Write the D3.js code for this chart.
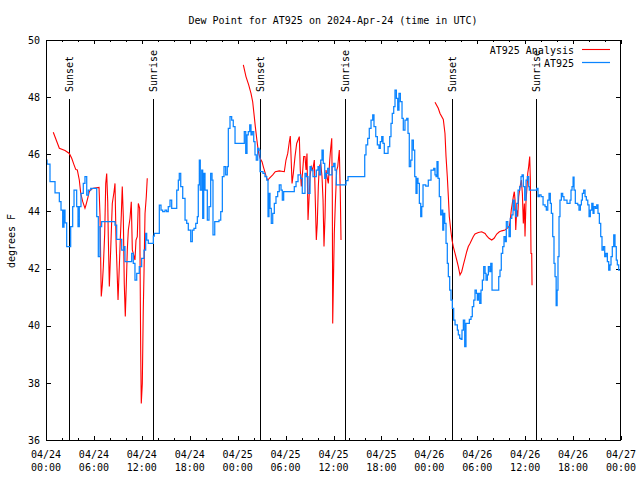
<!DOCTYPE html>
<html><head><meta charset="utf-8">
<script src="https://cdn.jsdelivr.net/npm/d3@7"></script>
<style>
body{margin:0;background:#fff}
svg{display:block}
text{font-family:"DejaVu Sans Mono",monospace;font-size:10px;fill:#000}
</style>
</head><body>
<svg id="c" width="640" height="480"></svg>
<script>
// ---- data (hours since 2024-04-24 00:00 UTC, dew point in °F) ----
const titleText = "Dew Point for AT925 on 2024-Apr-24 (time in UTC)";
const yLabel = "degrees F";
const yTicks = [36, 38, 40, 42, 44, 46, 48, 50];
const xMajorHours = [0, 6, 12, 18, 24, 30, 36, 42, 48, 54, 60, 66, 72];
const xMinorHours = d3.range(0, 73, 2);
const sunsetHours = [2.92, 26.83, 50.88];
const sunriseHours = [13.44, 37.48, 61.40];
const seriesNames = ["AT925 Analysis", "AT925"];

const at925 = [[0,45.8],[0.13,45.66],[0.5,45.04],[1.13,44.65],[1.67,44.34],[1.88,44.05],[2.09,43.45],[2.25,44.05],[2.38,43.6],[2.59,42.77],
[2.92,42.77],[3.09,43.47],[3.34,44.17],[3.51,44.75],[3.67,44.75],[3.84,44.17],[4.01,43.47],[4.17,44.17],[4.38,44.63],[4.67,44.98],
[4.88,45.22],[5.1,44.57],[5.3,44.75],[5.6,44.81],[5.92,44.81],[6.35,43.82],[6.55,42.42],[6.76,43.47],[6.97,43.64],[8.43,43.64],
[8.64,43.52],[8.85,43.02],[9.39,43.02],[9.48,42.65],[9.77,42.77],[9.89,42.24],[10.52,42.24],[10.73,42.53],[10.93,42.18],[11.14,41.6],
[11.36,41.83],[11.68,42.07],[11.98,42.36],[12.27,42.65],[12.48,43.23],[12.61,43.0],[12.81,42.88],[13.24,42.88],[13.44,43.14],[13.56,43.23],
[14.06,43.23],[14.19,44.22],[14.4,44.05],[14.61,43.99],[14.9,44.05],[15.11,43.99],[15.31,44.17],[15.53,44.4],[15.74,44.11],[16.15,44.11],
[16.37,44.75],[16.57,45.1],[16.69,45.33],[16.87,44.87],[17.12,44.46],[17.41,43.7],[17.62,43.58],[17.82,43.35],[18.12,42.94],[18.32,43.35],
[18.53,43.41],[18.75,43.58],[18.95,43.82],[19.07,44.93],[19.2,45.8],[19.32,44.75],[19.5,45.45],[19.62,43.76],[19.75,45.33],[19.91,44.75],
[20.2,43.7],[20.41,44.17],[20.62,45.33],[20.79,45.1],[20.91,43.18],[21.13,43.64],[21.66,43.7],[21.88,43.99],[22.08,45.22],[22.29,45.57],
[22.5,45.28],[22.7,45.57],[22.83,46.91],[23.04,47.32],[23.25,47.2],[23.45,46.97],[23.67,46.38],[24.71,46.38],[24.83,46.79],[25.01,46.03],
[25.17,46.68],[25.33,46.79],[25.51,47.03],[25.67,46.68],[25.83,46.79],[26.01,46.44],[26.17,45.98],[26.33,45.8],[26.51,46.21],[26.67,46.15],
[26.8,45.39],[27.17,45.33],[27.42,45.22],[27.64,45.1],[27.8,43.82],[27.92,44.63],[28.05,44.11],[28.21,43.58],[28.39,43.93],[28.59,44.28],
[28.8,44.52],[29.01,44.69],[29.21,44.93],[29.43,44.75],[29.59,44.4],[29.76,44.69],[30.89,44.69],[31.09,44.87],[31.31,45.04],[31.56,45.28],
[31.89,45.16],[32.09,44.63],[32.27,44.63],[32.43,45.33],[32.6,45.22],[32.81,44.63],[33.06,45.57],[33.22,45.45],[33.43,45.22],[33.85,45.45],
[34.06,45.57],[34.22,45.28],[34.4,45.8],[34.56,46.15],[34.72,45.68],[34.9,45.16],[35.06,45.33],[35.27,45.51],[35.44,45.28],[35.81,45.57],
[36.03,45.68],[36.19,45.45],[36.35,44.93],[37.35,44.93],[37.57,45.08],[37.82,45.22],[39.78,45.22],[39.91,45.98],[40.07,46.33],[40.28,46.56],
[40.48,46.91],[40.7,47.2],[40.91,47.38],[41.07,46.97],[41.29,46.62],[41.49,46.33],[41.7,46.21],[41.86,46.44],[42.04,46.62],[42.2,46.38],
[42.36,46.03],[42.83,46.27],[43.04,46.62],[43.2,47.08],[43.36,47.43],[43.54,47.67],[43.7,48.25],[43.87,47.96],[44.04,47.55],[44.2,48.13],
[44.37,47.84],[44.58,47.26],[44.74,46.85],[44.95,47.2],[45.17,47.26],[45.33,46.73],[45.49,45.57],[45.67,45.8],[45.83,46.5],[46.0,46.15],
[46.17,45.22],[46.33,44.63],[46.46,45.16],[46.58,44.98],[46.75,44.28],[46.92,43.82],[47.05,44.17],[47.21,44.93],[47.55,44.89],[47.87,45.1],
[48.21,45.45],[48.55,45.51],[48.71,45.28],[48.84,45.22],[48.96,45.74],[49.09,45.16],[49.25,44.52],[49.42,43.88],[49.59,44.05],[49.68,43.35],
[49.8,43.93],[49.93,43.58],[50.09,42.88],[50.25,42.18],[50.38,41.72],[50.55,41.25],[50.71,40.9],[50.88,40.61],[51.05,40.2],[51.22,40.03],
[51.51,39.85],[51.63,39.68],[51.8,39.56],[51.97,39.52],[52.09,39.85],[52.26,40.2],[52.43,39.27],[52.59,40.08],[53.01,40.22],[53.22,40.32],
[53.38,40.67],[53.56,40.9],[53.72,41.25],[53.89,41.13],[54.01,40.9],[54.14,41.13],[54.31,40.78],[54.47,41.25],[54.64,41.6],[54.81,42.07],
[54.98,41.83],[55.1,41.6],[55.27,41.78],[55.39,42.07],[55.57,41.89],[55.69,42.18],[55.85,41.25],[56.57,41.25],[56.69,41.72],[56.85,41.95],
[57.01,42.53],[57.19,42.77],[57.35,43.12],[57.52,42.94],[57.64,43.64],[57.82,43.47],[57.98,43.12],[58.14,43.76],[58.32,43.88],[58.48,44.4],
[58.64,44.05],[58.82,43.82],[58.94,44.28],[59.11,44.75],[59.32,44.87],[59.48,45.22],[59.61,45.28],[59.77,44.87],[59.94,44.4],[60.11,45.1],
[60.27,45.22],[60.44,44.87],[60.52,44.75],[61.45,44.81],[61.61,44.52],[61.77,44.58],[61.99,44.52],[62.24,44.23],[62.49,44.17],[62.65,44.05],
[62.83,44.4],[62.99,44.63],[63.15,44.28],[63.28,43.93],[63.45,43.12],[63.61,42.18],[63.74,41.72],[63.88,40.7],[64.0,41.25],[64.11,42.42],
[64.24,43.82],[64.36,44.4],[64.53,44.63],[64.7,44.52],[64.86,44.4],[65.24,44.28],[65.62,44.4],[65.74,44.75],[65.87,44.87],[66.0,45.2],
[66.12,44.75],[66.28,44.28],[66.58,44.23],[66.74,44.05],[66.91,44.23],[67.04,44.4],[67.16,44.63],[67.33,44.75],[67.5,44.52],[67.66,44.4],
[67.84,44.23],[68.0,43.82],[68.16,44.05],[68.34,44.28],[68.5,43.93],[68.62,44.17],[68.79,44.11],[68.96,44.23],[69.12,43.93],[69.29,43.58],
[69.46,43.12],[69.62,42.65],[69.79,42.77],[69.96,42.42],[70.12,42.53],[70.29,42.24],[70.46,41.95],[70.62,42.13],[70.75,42.42],[70.91,42.77],
[71.09,43.18],[71.25,42.77],[71.41,42.3],[71.54,42.13],[71.71,41.95],[71.87,41.95]];

const analysisNight1 = [[0.91,46.77],[1.67,46.21],[2.38,46.13],[2.92,46.03],[3.22,45.86],[3.51,45.63],[3.72,45.47],[3.92,45.45],[4.17,45.1],[4.35,44.63],
[4.6,44.34],[4.88,44.11],[5.01,44.23],[5.22,44.46],[5.42,44.69],[5.63,44.77],[5.92,44.81],[6.64,44.84],[6.76,43.88],[6.92,41.02],
[7.05,41.43],[7.18,42.07],[7.35,43.23],[7.48,44.98],[7.6,45.33],[7.73,44.34],[7.8,43.12],[7.93,41.37],[8.1,42.65],[8.3,44.28],
[8.52,44.69],[8.64,44.98],[8.77,43.0],[8.89,42.01],[9.02,40.9],[9.18,42.07],[9.3,43.0],[9.43,43.88],[9.55,44.87],[9.68,43.82],
[9.8,41.48],[9.93,40.32],[10.06,41.48],[10.18,42.65],[10.31,43.35],[10.52,43.76],[10.68,44.34],[10.81,42.65],[10.93,42.53],[11.14,42.3],
[11.27,43.0],[11.43,43.12],[11.56,44.28],[11.73,44.11],[11.86,39.03],[11.93,37.28],[12.06,37.98],[12.18,40.55],[12.27,41.83],[12.4,43.93],
[12.56,44.52],[12.68,45.16]];

const analysisNight2 = [[24.71,49.13],[25.04,48.72],[25.38,48.43],[25.67,48.13],[25.88,47.84],[26.08,47.32],[26.21,46.97],[26.38,46.56],[26.51,46.27],[26.64,46.03],
[26.8,45.86],[27.05,45.74],[27.21,45.57],[27.46,45.33],[27.64,45.16],[27.8,45.1],[27.96,45.16],[28.39,45.28],[28.71,45.39],[29.21,45.42],
[29.84,45.39],[30.05,45.8],[30.27,46.03],[30.47,46.44],[30.59,46.64],[30.81,44.98],[30.97,45.33],[31.18,45.92],[31.39,46.38],[31.56,46.5],
[31.72,46.62],[31.84,45.45],[31.97,44.87],[32.15,45.45],[32.27,45.92],[32.43,45.92],[32.56,45.45],[32.68,46.03],[32.81,43.7],[32.93,44.4],
[33.06,45.22],[33.22,45.57],[33.4,45.45],[33.6,45.8],[33.72,44.4],[33.85,43.0],[33.97,43.58],[34.1,44.87],[34.22,45.57],[34.4,45.68],
[34.56,45.22],[34.69,44.4],[34.81,42.77],[34.94,43.82],[35.06,45.45],[35.19,45.22],[35.35,44.98],[35.53,45.8],[35.65,46.21],[35.78,46.56],
[35.85,44.63],[35.9,40.08],[35.98,41.37],[36.1,43.23],[36.23,44.28],[36.4,45.45],[36.53,45.57],[36.65,45.92],[36.73,46.15],[36.85,44.63],
[36.94,43.0]];

const analysisNight3 = [[48.71,47.82],[49.12,47.61],[49.34,47.43],[49.75,47.22],[49.96,46.73],[50.09,45.92],[50.25,45.22],[50.38,44.52],[50.5,43.82],[50.68,43.35],
[50.84,43.0],[51.0,42.77],[51.22,42.53],[51.43,42.3],[51.63,42.07],[51.84,41.78],[52.05,41.89],[52.26,42.13],[52.47,42.36],[52.68,42.59],
[52.88,42.77],[53.09,42.88],[53.3,43.0],[53.51,43.12],[53.72,43.21],[54.14,43.26],[54.56,43.29],[54.98,43.23],[55.19,43.14],[55.47,43.06],
[55.81,43.0],[56.11,43.06],[56.44,43.21],[56.77,43.29],[57.07,43.32],[57.48,43.35],[58.01,43.47],[58.14,43.7],[58.26,44.05],[58.39,44.28],
[58.52,44.52],[58.64,44.69],[58.73,44.4],[58.82,43.35],[58.94,44.05],[59.07,43.82],[59.19,44.52],[59.36,44.87],[59.52,45.1],[59.65,44.63],
[59.77,43.58],[59.9,44.28],[59.98,43.12],[60.11,44.4],[60.24,44.87],[60.32,45.33],[60.44,45.57],[60.57,45.92],[60.65,45.1],[60.73,42.53],
[60.82,42.53],[60.86,41.42]];

// ---- drawing ----
const t0 = Date.UTC(2024, 3, 24);
const toDate = h => new Date(t0 + h * 3600e3);
const L = 46, R = 621, T = 40, B = 440;
const svg = d3.select("#c");
const x = d3.scaleUtc().domain([toDate(0), toDate(72)]).range([L, R]);
const y = d3.scaleLinear().domain([36, 50]).range([B, T]);

// title
svg.append("text").attr("x", 333).attr("y", 24).attr("text-anchor", "middle").text(titleText);

// axes ticks (inward, mirrored)
function styleAxis(g){ g.select(".domain").remove(); g.selectAll("line").attr("stroke","#000").attr("shape-rendering","crispEdges"); }
svg.append("g").attr("transform",`translate(0,${B})`)
  .call(d3.axisBottom(x).tickValues(xMinorHours.map(toDate)).tickSize(-2).tickFormat(""))
  .call(styleAxis);
svg.append("g").attr("transform",`translate(0,${T})`)
  .call(d3.axisTop(x).tickValues(xMinorHours.map(toDate)).tickSize(-2).tickFormat(""))
  .call(styleAxis);
svg.append("g").attr("transform",`translate(0,${B})`)
  .call(d3.axisBottom(x).tickValues(xMajorHours.map(toDate)).tickSize(-4).tickFormat(""))
  .call(styleAxis);
svg.append("g").attr("transform",`translate(0,${T})`)
  .call(d3.axisTop(x).tickValues(xMajorHours.map(toDate)).tickSize(-4).tickFormat(""))
  .call(styleAxis);
const gy = svg.append("g").attr("transform",`translate(${L},0)`)
  .call(d3.axisLeft(y).tickValues(yTicks).tickSize(-5).tickPadding(6).tickFormat(d3.format("d")))
  .call(styleAxis);
gy.selectAll("text").attr("font-family",null).attr("font-size",null).attr("fill","#000");
svg.append("g").attr("transform",`translate(${R},0)`)
  .call(d3.axisRight(y).tickValues(yTicks).tickSize(-5).tickFormat(""))
  .call(styleAxis);

// x tick labels (two lines)
const fD = d3.utcFormat("%m/%d"), fT = d3.utcFormat("%H:%M");
const xl = svg.append("g");
xMajorHours.forEach(h => {
  const d = toDate(h);
  xl.append("text").attr("x", x(d)).attr("y", 458.3).attr("text-anchor","middle").text(fD(d));
  xl.append("text").attr("x", x(d)).attr("y", 470.7).attr("text-anchor","middle").text(fT(d));
});

// y label
svg.append("text").attr("transform","translate(14.5,241) rotate(-90)").attr("text-anchor","middle").text(yLabel);

// sunset / sunrise lines
const ev = sunsetHours.map(h => ({h, label:"Sunset"})).concat(sunriseHours.map(h => ({h, label:"Sunrise"})));
ev.forEach(e => {
  const xp = Math.round(x(toDate(e.h))) + 0.5;
  svg.append("line").attr("x1", xp).attr("x2", xp).attr("y1", 99).attr("y2", B).attr("stroke","#000").attr("stroke-width",1);
  svg.append("text").attr("transform",`translate(${xp+3.8},92) rotate(-90)`).attr("text-anchor","start").text(e.label);
});

// series (analysis drawn first, observations on top)
const lineLin = d3.line().x(d => x(toDate(d[0]))).y(d => y(d[1]));
const lineStep = d3.line().x(d => x(toDate(d[0]))).y(d => y(d[1])).curve(d3.curveStepAfter);
const blue = "#0a84ff", red = "#ff0000";
[analysisNight1, analysisNight2, analysisNight3].forEach(seg => {
  svg.append("path").datum(seg).attr("d", lineLin).attr("fill","none").attr("stroke",red).attr("stroke-width",1.1);
});
svg.append("path").datum(at925).attr("d", lineStep).attr("fill","none").attr("stroke",blue).attr("stroke-width",1.25);

// frame
svg.append("rect").attr("x", L+0.5).attr("y", T+0.5).attr("width", R-L-1).attr("height", B-T).attr("fill","none").attr("stroke","#000").attr("stroke-width",1);

// legend
const lg = svg.append("g");
[[seriesNames[0], red, 53.5, 49], [seriesNames[1], blue, 66.5, 62]].forEach(([name, col, ty, ly]) => {
  lg.append("text").attr("x", 574).attr("y", ty).attr("text-anchor","end").text(name);
  lg.append("line").attr("x1", 582).attr("x2", 610).attr("y1", ly+0.5).attr("y2", ly+0.5).attr("stroke", col).attr("stroke-width", col===blue?1.25:1.1);
});
</script>
</body></html>
